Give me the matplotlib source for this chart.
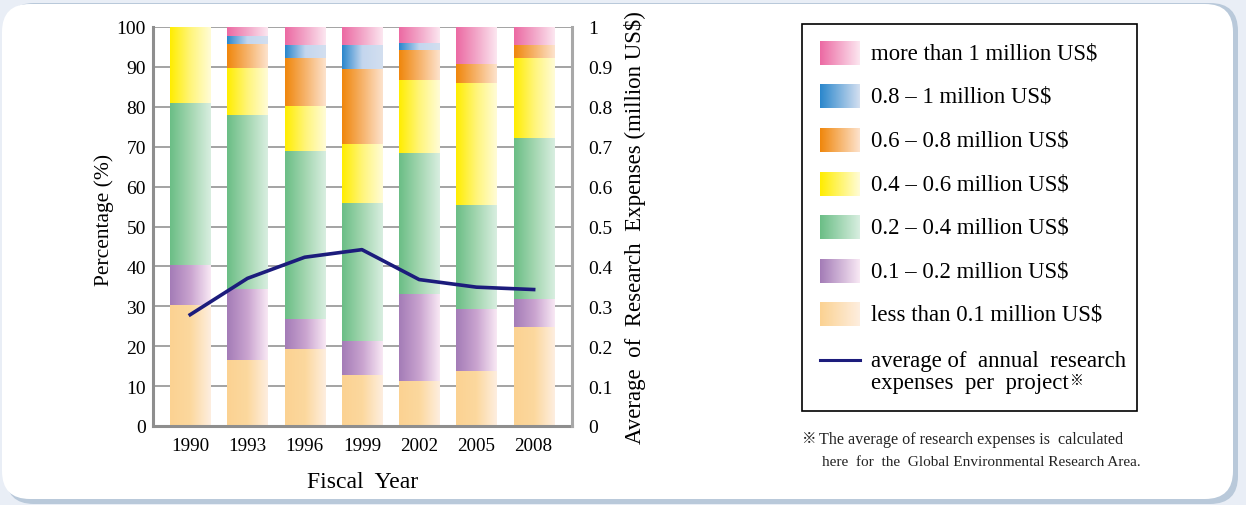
import numpy as np
import matplotlib.pyplot as plt
from matplotlib.patches import FancyBboxPatch, Rectangle
from matplotlib.colors import to_rgb

plt.rcParams['font.family'] = ['Liberation Serif', 'Noto Sans CJK JP']

years = ['1990', '1993', '1996', '1999', '2002', '2005', '2008']

# share of projects (%) per expense class, bottom to top
less_01 = [30.3, 16.5, 19.4, 12.7, 11.4, 13.9, 24.7]
from_01_02 = [10.1, 17.8, 7.5, 8.7, 21.8, 15.4, 7.2]
from_02_04 = [40.5, 43.6, 42.0, 34.5, 35.2, 26.1, 40.3]
from_04_06 = [19.1, 11.8, 11.3, 14.9, 18.3, 30.5, 20.0]
from_06_08 = [0.0, 6.1, 12.1, 18.6, 7.5, 4.9, 3.2]
from_08_1 = [0.0, 2.0, 3.1, 6.0, 1.7, 0.0, 0.0]
over_1 = [0.0, 2.2, 4.6, 4.6, 4.1, 9.2, 4.6]

# average annual expenses per project (million US$)
avg_expense = [0.279, 0.370, 0.423, 0.442, 0.367, 0.348, 0.342]

labels = ['less than 0.1 million US$', '0.1 \u2013 0.2 million US$',
          '0.2 \u2013 0.4 million US$', '0.4 \u2013 0.6 million US$',
          '0.6 \u2013 0.8 million US$', '0.8 \u2013 1 million US$',
          'more than 1 million US$']
series = [less_01, from_01_02, from_02_04, from_04_06, from_06_08, from_08_1, over_1]

# left -> right gradient stops for each class
grads = [
    ['#fbd292', '#fcd89e', '#feeedf'],
    ['#a47cb7', '#c9a3cf', '#f8e8f4'],
    ['#6bbe86', '#a3d6b0', '#d8eee0'],
    ['#ffed00', '#fff57a', '#fffcd6'],
    ['#f0870c', '#f6b36b', '#fde2cc'],
    ['#2b87cc', '#c4d6ee', '#d3dff0'],
    ['#ec6aa3', '#f2a6c8', '#fce6f0'],
]


def gradient(stops, n=64):
    cols = np.array([to_rgb(c) for c in stops])
    pos = np.linspace(0, 1, len(stops))
    t = np.linspace(0, 1, n)
    img = np.stack([np.interp(t, pos, cols[:, k]) for k in range(3)], axis=-1)
    return img[np.newaxis, :, :]


W, H = 1246, 506
fig = plt.figure(figsize=(W / 100, H / 100), dpi=100, facecolor='#e9eef6')

# background panel + legend drawn in pixel coords
bg = fig.add_axes([0, 0, 1, 1], zorder=0)
bg.set_xlim(0, W)
bg.set_ylim(H, 0)
bg.axis('off')
bg.add_patch(FancyBboxPatch((34, 32), 1204 - 28, 470 - 28 + 3,
                            boxstyle='round,pad=28', fc='#b9c9da', ec='none'))
bg.add_patch(FancyBboxPatch((30, 33), 1203 - 28, 467 - 28,
                            boxstyle='round,pad=28', fc='white', ec='none'))

ax = fig.add_axes([153 / W, 1 - 427 / H, (572 - 153) / W, (427 - 28) / H], zorder=1)
ax.set_facecolor('none')
x = np.arange(len(years))
bottom = np.zeros(len(years))
for vals, stops in zip(series, grads):
    bars = ax.bar(x, vals, 0.70, bottom=bottom, color='none', zorder=2)
    for p in bars:
        if p.get_height() <= 0:
            continue
        ax.imshow(gradient(stops), extent=[p.get_x(), p.get_x() + p.get_width(),
                                           p.get_y(), p.get_y() + p.get_height()],
                  aspect='auto', interpolation='bilinear', zorder=2)
    bottom += np.array(vals)

ax.set_xlim(-0.65, 6.67)
ax.set_ylim(0, 100)
ax.set_yticks(range(0, 101, 10))
ax.set_xticks(x)
ax.set_xticklabels(years)
ax.tick_params(axis='both', length=0, labelsize=14, colors='black')
ax.tick_params(axis='x', pad=8, labelsize=13.8)
ax.tick_params(axis='y', pad=5)
ax.yaxis.grid(True, color='#9c9c9c', lw=1.3, zorder=0)
ax.set_axisbelow(True)
for s in ['left', 'bottom']:
    ax.spines[s].set_color('#8e8e8e')
    ax.spines[s].set_linewidth(2.2)
ax.spines['top'].set_visible(False)
ax.spines['right'].set_visible(False)
ax.set_xlabel('Fiscal  Year', fontsize=17, labelpad=12)
bg.text(104, 220, 'Percentage (%)', fontsize=15.5, rotation=90, ha='center', va='center')

ax2 = ax.twinx()
ax2.plot(x, avg_expense, color='#1c1c7c', lw=2.6, zorder=5)
ax2.set_ylim(0, 1)
ax2.set_yticks(np.linspace(0, 1, 11))
ax2.set_yticklabels(['0'] + ['%.1f' % v for v in np.linspace(0.1, 0.9, 9)] + ['1'])
ax2.tick_params(axis='y', length=0, labelsize=14, pad=12)
for s in ['left', 'bottom', 'top']:
    ax2.spines[s].set_visible(False)
ax2.spines['right'].set_color('#a8a8a8')
ax2.spines['right'].set_linewidth(2.2)
ax2.set_ylabel('Average  of  Research  Expenses (million US$)', fontsize=16.5, labelpad=8)

# legend box
bg.add_patch(Rectangle((802, 25), 335, 387, fc='white', ec='black', lw=1.2))
rows = [54, 97, 141, 185, 228, 272, 315]
for yc, lab, stops in zip(rows, labels[::-1], grads[::-1]):
    bg.imshow(gradient([stops[0], stops[2]]), extent=[820, 860, yc + 12, yc - 12],
              aspect='auto', interpolation='bilinear', zorder=3)
    bg.text(871, yc, lab, fontsize=16.4, va='center', ha='left')
bg.plot([820, 860], [361, 361], color='#1c1c7c', lw=2.2)
bg.text(871, 361, 'average of  annual  research', fontsize=16.4, va='center', ha='left')
t = bg.text(871, 384, 'expenses  per  project', fontsize=16.4, va='center', ha='left')
bg.annotate('\u203b', xy=(1, 0.95), xycoords=t, xytext=(1, 0), textcoords='offset points',
            fontsize=10, ha='left', va='top')

bg.text(802, 440, '\u203b', fontsize=10.5, va='center', ha='left', color='#222222')
bg.text(819, 440, 'The average of research expenses is  calculated',
        fontsize=11.6, va='center', ha='left', color='#222222')
bg.text(822, 463, 'here  for  the  Global Environmental Research Area.',
        fontsize=11.0, va='center', ha='left', color='#222222')

bg.set_xlim(0, W)
bg.set_ylim(H, 0)
fig.savefig('out.png', dpi=100, facecolor=fig.get_facecolor())
